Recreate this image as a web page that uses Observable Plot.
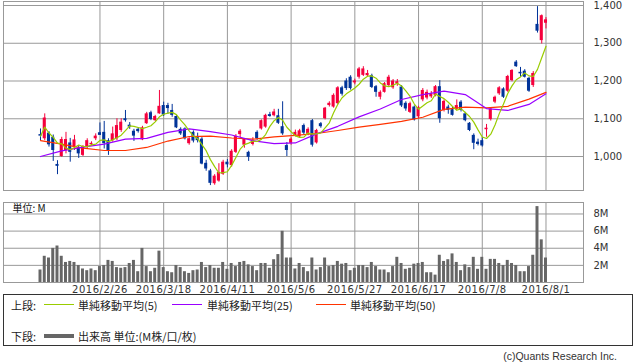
<!DOCTYPE html>
<html><head><meta charset="utf-8">
<script src="https://cdn.jsdelivr.net/npm/d3@7"></script>
<script src="https://cdn.jsdelivr.net/npm/@observablehq/plot@0.6"></script>
<style>
body{margin:0;background:#fff;}
#wrap{position:relative;width:638px;height:362px;overflow:hidden;}
#top{position:absolute;left:0;top:0;}
#vol{position:absolute;left:0;top:191px;}
#vol g[aria-label="x-axis tick label"] text{letter-spacing:0.5px;}
#legend{position:absolute;left:3px;top:294px;width:630px;height:52px;border:1px solid #333;box-sizing:border-box;font-family:"Noto Sans CJK JP",sans-serif;}
.lg{position:absolute;font-size:11px;line-height:12px;color:#222;white-space:nowrap;}
.ln{position:absolute;width:30px;}
#cap{position:absolute;right:21px;top:350px;font-size:10.5px;line-height:12px;color:#333;font-family:"Liberation Sans",sans-serif;}
</style></head>
<body>
<div id="wrap">
  <div id="top"></div>
  <div id="vol"></div>
  <div id="legend">
    <span class="lg" style="left:7px;top:4px">上段:</span>
    <span class="ln" style="left:40px;top:9px;border-top:1px solid #99cc00"></span>
    <span class="lg" style="left:74px;top:4px">単純移動平均(5)</span>
    <span class="ln" style="left:168px;top:9px;border-top:1px solid #9900ff"></span>
    <span class="lg" style="left:203px;top:4px">単純移動平均(25)</span>
    <span class="ln" style="left:312px;top:9px;border-top:1px solid #ff3300"></span>
    <span class="lg" style="left:346px;top:4px">単純移動平均(50)</span>
    <span class="lg" style="left:7px;top:35px">下段:</span>
    <span class="ln" style="left:40px;top:39px;border-top:4px solid #666"></span>
    <span class="lg" style="left:74px;top:35px">出来高 単位:(M株/口/枚)</span>
  </div>
  <div id="cap">(c)Quants Research Inc.</div>
</div>
<script>
// ---- data ----
const opens  = [1058,1047,1062,1051,979,1000,1016,1036,1025,1022, 1003,1025,1031,1047,1063,1064,1042,1042,1047,1069,
                1100,1083,1067,1072,1044,1087,1116,1095,1113,1135, 1135,1122,1106,1072,1073,1034,1064,1052,1046,982,
                962,928,935,953,985,976,1011,1058,1030,1011, 1032,1064,1073,1078,1111,1108,1108,1079,1029,1035,
                1056,1052,1082,1059,1095,1036,1087,1100,1135,1131, 1140,1182,1200,1210,1195,1210,1215,1214,1214,1185,
                1157,1170,1188,1182,1192,1184,1141,1117,1131,1105, 1150,1155,1158,1162,1185,1122,1131,1124,1126,1144,
                1113,1088,1056,1038,1042,1071,1098,1144,1166,1179, 1173,1201,1250,1223,1226,1207,1188,1350,1307,1353];
const highs  = [1073,1113,1066,1057,989,1051,1064,1048,1056,1029, 1029,1047,1039,1060,1089,1093,1047,1078,1100,1100,
                1122,1090,1072,1076,1080,1117,1120,1109,1175,1144, 1141,1138,1108,1076,1076,1050,1068,1062,1050,990,
                966,952,981,990,992,1018,1058,1071,1047,1014, 1050,1068,1097,1112,1117,1125,1125,1145,1037,1050,
                1070,1072,1086,1076,1098,1072,1090,1130,1145,1166, 1185,1186,1206,1214,1205,1236,1238,1228,1218,1188,
                1174,1196,1215,1204,1204,1188,1145,1144,1134,1133, 1180,1176,1172,1188,1201,1150,1136,1130,1150,1148,
                1117,1090,1060,1046,1050,1085,1128,1160,1185,1182, 1215,1230,1254,1236,1230,1210,1225,1397,1375,1368];
const lows   = [1042,1042,1025,987,952,998,1007,985,1016,995, 1000,1020,1028,1042,1056,1020,1003,1038,1042,1064,
                1091,1072,1040,1062,1042,1085,1095,1093,1112,1106, 1112,1104,1074,1056,1044,1030,1036,1036,978,961,
                923,924,932,950,970,972,1008,1050,1022,987, 1028,1043,1070,1075,1104,1105,1085,1056,1000,1030,
                1052,1048,1058,1055,1025,1033,1075,1097,1131,1128, 1137,1160,1175,1176,1190,1205,1212,1210,1180,1157,
                1150,1168,1185,1178,1186,1130,1120,1114,1094,1100, 1145,1150,1154,1158,1088,1118,1112,1107,1122,1118,
                1092,1066,1018,1028,1025,1051,1094,1140,1162,1154, 1170,1198,1236,1210,1208,1170,1183,1327,1298,1338];
const closes = [1054,1102,1031,1016,974,1045,1045,1011,1044,1007, 1026,1042,1035,1054,1056,1034,1016,1060,1082,1091,
                1095,1078,1054,1066,1076,1113,1098,1106,1133,1110, 1127,1109,1076,1060,1047,1047,1041,1042,980,967,
                929,948,958,985,978,1014,1053,1067,1045,998, 1042,1047,1095,1109,1106,1118,1088,1060,1016,1046,
                1064,1068,1062,1072,1030,1069,1079,1128,1141,1162, 1182,1165,1180,1180,1200,1232,1232,1220,1183,1170,
                1170,1193,1210,1200,1198,1134,1126,1140,1097,1130, 1175,1170,1166,1185,1100,1146,1122,1109,1135,1122,
                1095,1069,1035,1032,1028,1075,1126,1157,1182,1157, 1212,1228,1238,1219,1210,1173,1220,1332,1373,1362];
// volume, millions of shares
const volumes = [1.46,3.06,2.86,3.98,4.26,3.06,2.34,2.46,2.34,1.98, 1.58,1.38,1.58,1.38,1.86,1.98,2.58,2.46,1.74,1.66,
                 1.74,2.22,2.58,1.26,3.98,1.86,1.26,1.66,3.66,1.74, 1.26,1.14,1.98,1.74,1.26,1.06,1.38,1.46,2.34,1.74,
                 1.98,1.66,1.66,2.34,1.54,2.22,1.86,2.34,2.46,2.06, 1.86,1.38,2.22,2.22,1.66,2.66,3.26,5.98,2.86,2.86,
                 1.58,2.22,1.74,1.26,2.86,1.46,1.74,2.86,1.86,1.98, 2.46,2.14,2.22,1.38,1.66,1.98,1.98,1.74,2.34,1.86,
                 1.46,1.46,1.14,1.86,2.94,2.22,1.54,1.66,2.14,2.22, 2.34,1.14,1.14,0.86,3.18,2.46,2.66,3.34,2.34,1.38,
                 2.06,1.74,2.94,1.54,2.94,1.54,2.70,2.70,2.22,1.98, 2.58,2.22,1.98,1.26,1.26,1.86,3.18,8.86,4.98,2.86];
// 25- and 50-day moving averages every 5 trading days
const maDay = [0,5,10,15,20,25,30,35,40,45,50,55,60,65,70,75,80,85,90,95,100,105,110,115,119];
const ma25  = [1000,1015,1025,1033,1046,1048,1064,1073,1066,1057,1042,1034,1036,1060,1080,1105,1126,1151,1164,1173,1164,1127,1122,1138,1166];
const ma50  = [1042,1033,1022,1016,1016,1024,1041,1053,1054,1049,1046,1052,1056,1061,1069,1078,1085,1093,1104,1125,1131,1129,1133,1152,1170];
// date ticks (trading-day index) and their labels
const tickDay    = [14,29,44,59,74,89,104,119];
const tickLabels = ["2016/2/26","2016/3/18","2016/4/11","2016/5/6","2016/5/27","2016/6/17","2016/7/8","2016/8/1"];
const priceTicks = [1000,1100,1200,1300,1400];
const volTicks   = [2,4,6,8];

// ---- build ----
const UP = "#f5003c", DOWN = "#003399", GRID = "#999";
const candles = opens.map((o,i)=>({i, open:o, high:highs[i], low:lows[i], close:closes[i], vol:volumes[i]}));
const ma25Pts = maDay.map((d,k)=>({i:d, v:ma25[k]}));
const ma50Pts = maDay.map((d,k)=>({i:d, v:ma50[k]}));
const labelOf = new Map(tickDay.map((d,k)=>[d, tickLabels[k]]));
const xDomain = [-8.71, 127.83];
const colorOf = d => d.close >= d.open ? UP : DOWN;

const topChart = Plot.plot({
  width: 638, height: 191,
  marginLeft: 3, marginRight: 55, marginTop: 1, marginBottom: 1,
  style: {fontFamily: "DejaVu Sans", fontSize: "10px", color: "#333", background: "#fff"},
  x: {domain: xDomain, axis: null},
  y: {domain: [910, 1410.6], axis: null},
  color: {type: "identity"},
  marks: [
    Plot.gridX(tickDay, {stroke: GRID, strokeOpacity: 1}),
    Plot.gridY(priceTicks, {stroke: GRID, strokeOpacity: 1}),
    Plot.frame({stroke: GRID}),
    Plot.ruleX(candles, {x: "i", y1: "low", y2: "high", stroke: colorOf, strokeWidth: 1}),
    Plot.rect(candles, {x1: d => d.i - 0.36, x2: d => d.i + 0.36, y1: "open", y2: "close", fill: colorOf}),
    Plot.line(ma50Pts, {x: "i", y: "v", stroke: "#ff3300", strokeWidth: 1.2}),
    Plot.line(ma25Pts, {x: "i", y: "v", stroke: "#9900ff", strokeWidth: 1.2}),
    Plot.lineY(candles, Plot.windowY({k: 5, anchor: "end", reduce: "mean"}, {x: "i", y: "close", stroke: "#99cc00", strokeWidth: 1.2})),
    Plot.axisY(priceTicks, {anchor: "right", label: null, tickSize: 0, tickPadding: 10, tickFormat: d3.format(","), fill: "#333"})
  ]
});
document.getElementById("top").append(topChart);

const volChart = Plot.plot({
  width: 638, height: 106,
  marginLeft: 3, marginRight: 55, marginTop: 11, marginBottom: 15,
  style: {fontFamily: "DejaVu Sans", fontSize: "10px", color: "#333", background: "transparent"},
  x: {domain: xDomain, axis: null},
  y: {domain: [0, 9.34], axis: null},
  marks: [
    Plot.gridX(tickDay, {stroke: GRID, strokeOpacity: 1}),
    Plot.gridY(volTicks, {stroke: GRID, strokeOpacity: 1}),
    Plot.rectY(candles, {x1: d => d.i - 0.35, x2: d => d.i + 0.35, y: "vol", fill: "#666"}),
    Plot.frame({stroke: GRID}),
    Plot.axisY(volTicks, {anchor: "right", label: null, tickSize: 0, tickPadding: 10, tickFormat: d => d + "M", fill: "#333"}),
    Plot.axisX(tickDay, {anchor: "bottom", label: null, tickSize: 0, tickPadding: 3, tickFormat: d => labelOf.get(d), fill: "#333"}),
    Plot.text(["単位: M"], {text: d => d, frameAnchor: "top-left", dx: 9, dy: 6, lineAnchor: "middle", textAnchor: "start",
      fontFamily: "Noto Sans CJK JP", fontSize: 10, fill: "#111"})
  ]
});
document.getElementById("vol").append(volChart);
</script>
</body></html>
